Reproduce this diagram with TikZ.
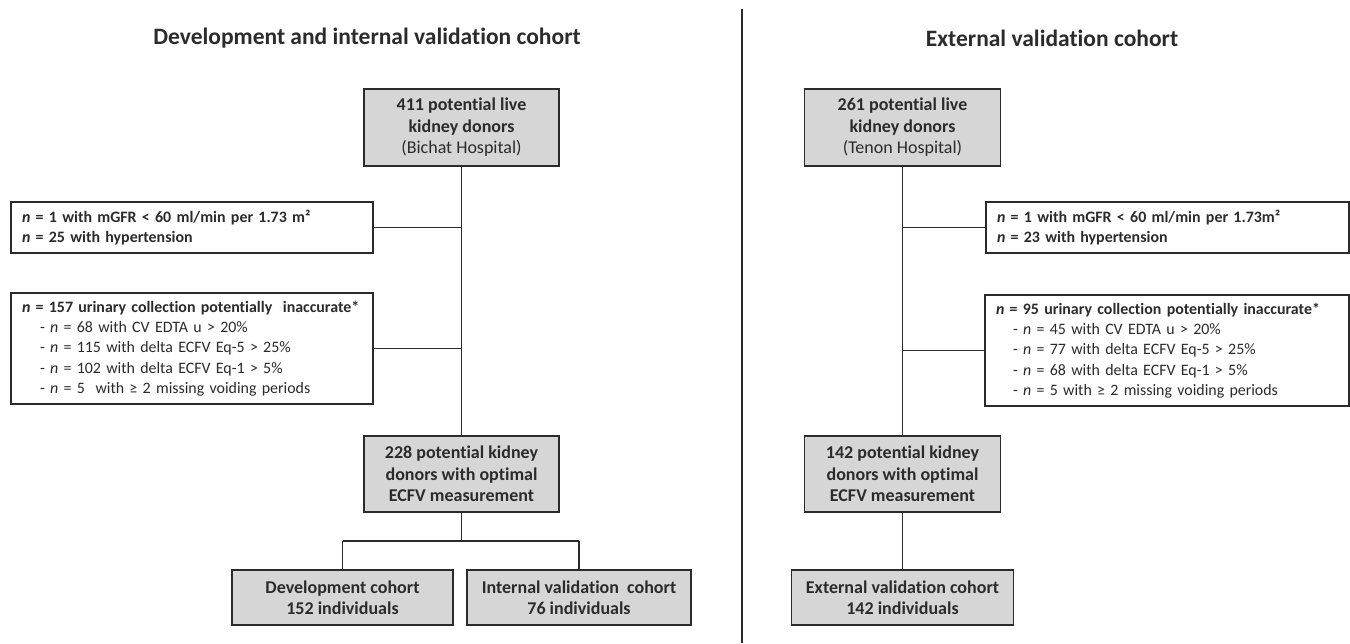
\documentclass[tikz,border=0pt]{standalone}
\usepackage{fontspec}
\setmainfont[Ligatures=NoCommon]{Carlito}
\definecolor{ink}{HTML}{2B2B2B}
\definecolor{boxfill}{HTML}{D6D6D6}
\begin{document}
\begin{tikzpicture}[x=1pt,y=-1pt,
  gbox/.style={draw=ink, fill=boxfill, line width=1.5pt, inner sep=0pt, align=center,
    text=ink, font=\bfseries\fontsize{18}{21.5}\selectfont},
  wbox/.style={draw=ink, fill=white, line width=1.5pt, inner xsep=11pt, inner ysep=0pt,
    align=left, text=ink, font=\fontsize{15.9}{20.3}\selectfont},
  ttl/.style={text=ink, font=\bfseries\fontsize{23.5}{26}\selectfont, inner sep=0pt},
  conn/.style={draw=ink, line width=1.3pt},
  divider/.style={draw=ink, line width=2pt}]
\useasboundingbox (0,0) rectangle (1350,643);

% titles
\node[ttl] (t1) at (367,38) {Development and internal validation cohort};
\node[ttl] (t2) at (1052,38) {External validation cohort};

% divider
\coordinate (dtop) at (741.5,9);
\coordinate (dbot) at (741.5,643);
\draw[divider] (dtop) -- (dbot);

% ---------- left ----------
\node[gbox, minimum width=195pt, minimum height=77pt] (a1) at (461.5,127.5)
  {411 potential live\\kidney donors\\\mdseries(Bichat Hospital)};
\node[wbox, text width=340pt, minimum height=51pt] (a2) at (192,227.5)
  {\textbf{\textit{n} = 1 with mGFR < 60 ml/min per 1.73 m²}\\
   \textbf{\textit{n} = 25 with hypertension}};
\node[wbox, text width=340pt, minimum height=111pt] (a3) at (192,348.5)
  {\textbf{\textit{n} = 157 urinary collection potentially\ \ inaccurate*}\\
   \hspace*{18pt}- \textit{n} = 68 with CV EDTA u > 20\%\\
   \hspace*{18pt}- \textit{n} = 115 with delta ECFV Eq-5 > 25\%\\
   \hspace*{18pt}- \textit{n} = 102 with delta ECFV Eq-1 > 5\%\\
   \hspace*{18pt}- \textit{n} = 5\ \ with ≥ 2 missing voiding periods};
\node[gbox, minimum width=195pt, minimum height=76pt] (a4) at (461.5,474)
  {228 potential kidney\\donors with optimal\\ECFV measurement};
\node[gbox, minimum width=221pt, minimum height=55pt] (a5) at (342.5,597.5)
  {Development cohort\\152 individuals};
\node[gbox, minimum width=224pt, minimum height=55pt] (a6) at (579,597.5)
  {Internal validation\ \ cohort\\76 individuals};

\coordinate (j1) at (a1.south |- a2.east);
\coordinate (j2) at (a1.south |- a3.east);
\coordinate (s0) at (461.5,541);
\coordinate (sl) at (a5.north |- s0);
\coordinate (sr) at (a6.north |- s0);
\draw[conn] (a1.south) -- (a4.north);
\draw[conn] (a2.east) -- (j1);
\draw[conn] (a3.east) -- (j2);
\draw[conn] (a4.south) -- (s0);
\draw[conn] (sl) -- (sr);
\draw[conn] (sl) -- (a5.north);
\draw[conn] (sr) -- (a6.north);

% ---------- right ----------
\node[gbox, minimum width=196pt, minimum height=77pt] (b1) at (902.5,127.5)
  {261 potential live\\kidney donors\\\mdseries(Tenon Hospital)};
\node[wbox, text width=341pt, minimum height=51pt] (b2) at (1167.5,227.5)
  {\textbf{\textit{n} = 1 with mGFR < 60 ml/min per 1.73m²}\\
   \textbf{\textit{n} = 23 with hypertension}};
\node[wbox, text width=342pt, minimum height=111pt] (b3) at (1167,350.5)
  {\textbf{\textit{n} = 95 urinary collection potentially inaccurate*}\\
   \hspace*{17pt}- \textit{n} = 45 with CV EDTA u > 20\%\\
   \hspace*{17pt}- \textit{n} = 77 with delta ECFV Eq-5 > 25\%\\
   \hspace*{17pt}- \textit{n} = 68 with delta ECFV Eq-1 > 5\%\\
   \hspace*{17pt}- \textit{n} = 5 with ≥ 2 missing voiding periods};
\node[gbox, minimum width=196pt, minimum height=76pt] (b4) at (902.5,474)
  {142 potential kidney\\donors with optimal\\ECFV measurement};
\node[gbox, minimum width=222pt, minimum height=55pt] (b5) at (902.5,597.5)
  {External validation cohort\\142 individuals};

\coordinate (k1) at (b1.south |- b2.west);
\coordinate (k2) at (b1.south |- b3.west);
\draw[conn] (b1.south) -- (b4.north);
\draw[conn] (k1) -- (b2.west);
\draw[conn] (k2) -- (b3.west);
\draw[conn] (b4.south) -- (b5.north);
\end{tikzpicture}
\end{document}
